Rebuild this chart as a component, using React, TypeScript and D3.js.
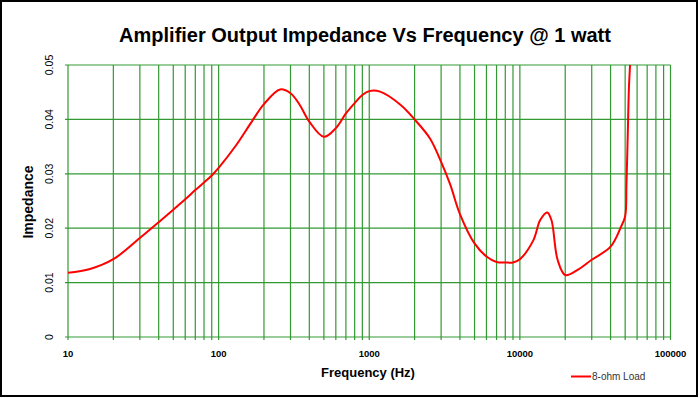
import * as d3 from 'd3';
import { useEffect } from 'react';

// frequency (Hz) and output impedance
const freqs = [10, 14, 20, 30, 40, 50, 60, 70, 80, 90, 100, 131, 166, 200, 256, 300, 345, 400, 500, 600, 700, 800, 900, 1000, 1180, 1610, 2000, 2530, 3000, 3450, 4000, 5000, 6000, 7000, 8000, 9000, 10000, 12300, 13650, 15200, 16200, 17800, 20000, 24000, 30000, 40000, 47000, 50000, 51000, 52000, 53000, 54000, 55000];
const impedance = [0.0118, 0.0125, 0.0143, 0.0182, 0.0211, 0.0234, 0.0253, 0.0270, 0.0284, 0.0297, 0.0311, 0.0353, 0.0396, 0.0428, 0.0455, 0.0448, 0.0427, 0.0396, 0.0368, 0.0384, 0.0411, 0.0430, 0.0445, 0.0452, 0.0451, 0.0427, 0.0400, 0.0365, 0.0322, 0.0280, 0.0226, 0.0172, 0.0148, 0.0138, 0.0137, 0.0137, 0.0143, 0.0178, 0.0215, 0.0229, 0.0215, 0.0142, 0.0114, 0.0123, 0.0142, 0.0166, 0.0203, 0.0222, 0.028, 0.037, 0.046, 0.0505, 0.056];
const xTickLabels = ['10', '100', '1000', '10000', '100000'];
const yTickLabels = ['0', '0.01', '0.02', '0.03', '0.04', '0.05'];
const seriesName = '8-ohm Load';

const App = () => {

    useEffect(() => {
        drawChart()
    }, []);

    const drawChart = () => {
        const width: any = 700;
        const height: any = 398;
        const left = 68, right = 670.5, top = 65, bottom = 337;
        const grid = '#339933';

        d3.select('#chart').selectAll('*').remove();

        const svg: any = d3.select('#chart')
            .append('svg')
            .attr('width', width)
            .attr('height', height)
            .style('position', 'absolute')
            .style('left', 0)
            .style('top', 0)
            .style('font-family', 'Arial, "Liberation Sans", sans-serif');

        svg.append('rect').attr('width', width).attr('height', height).attr('fill', '#fff');
        // frame
        svg.append('rect')
            .attr('x', 1).attr('y', 1).attr('width', 696).attr('height', 395)
            .attr('fill', 'none').attr('stroke', '#000').attr('stroke-width', 2);

        const x = d3.scaleLog().domain([10, 100000]).range([left, right]);
        const y = d3.scaleLinear().domain([0, 0.05]).range([bottom, top]);

        // title
        svg.append('text')
            .attr('x', 365).attr('y', 42)
            .attr('text-anchor', 'middle')
            .style('font-size', '20px')
            .style('font-weight', 700)
            .style('fill', '#000')
            .text('Amplifier Output Impedance Vs Frequency @ 1 watt');

        // vertical grid (every 1..9 per decade)
        const minor: number[] = [];
        for (let e = 1; e <= 4; e++) {
            for (let m = 1; m <= 9; m++) minor.push(m * Math.pow(10, e));
        }
        minor.push(100000);
        svg.append('g').selectAll('line')
            .data(minor)
            .enter()
            .append('line')
            .attr('x1', (d: any) => x(d)).attr('x2', (d: any) => x(d))
            .attr('y1', top).attr('y2', bottom + 3)
            .attr('stroke', grid).attr('stroke-width', 1.2);

        // horizontal grid
        const yVals = yTickLabels.map((d) => +d);
        svg.append('g').selectAll('line')
            .data(yVals)
            .enter()
            .append('line')
            .attr('x1', left - 3).attr('x2', right)
            .attr('y1', (d: any) => y(d)).attr('y2', (d: any) => y(d))
            .attr('stroke', grid).attr('stroke-width', 1.2);

        // y tick labels (rotated)
        svg.append('g').selectAll('text')
            .data(yTickLabels)
            .enter()
            .append('text')
            .attr('transform', (d: any) => `translate(53,${y(+d)}) rotate(-90)`)
            .attr('text-anchor', 'middle')
            .style('font-size', '10.5px')
            .style('fill', '#000')
            .text((d: any) => d);

        // x tick labels
        svg.append('g').selectAll('text')
            .data(xTickLabels)
            .enter()
            .append('text')
            .attr('x', (d: any) => x(+d)).attr('y', 357)
            .attr('text-anchor', 'middle')
            .style('font-size', '9.5px')
            .style('font-weight', 700)
            .style('fill', '#000')
            .text((d: any) => d);

        // axis titles
        svg.append('text')
            .attr('x', 368).attr('y', 377)
            .attr('text-anchor', 'middle')
            .style('font-size', '13px').style('font-weight', 700)
            .text('Frequency (Hz)');
        svg.append('text')
            .attr('transform', 'translate(33,202) rotate(-90)')
            .attr('text-anchor', 'middle')
            .style('font-size', '14px').style('font-weight', 700)
            .text('Impedance');

        // curve
        svg.append('clipPath').attr('id', 'plotclip')
            .append('rect').attr('x', left).attr('y', top)
            .attr('width', right - left).attr('height', bottom - top);

        const pts: any = freqs.map((f, i) => [f, impedance[i]]);
        const line: any = d3.line()
            .x((d: any) => x(d[0]))
            .y((d: any) => y(d[1]))
            .curve(d3.curveCatmullRom.alpha(0.5));
        svg.append('path')
            .attr('d', line(pts))
            .attr('clip-path', 'url(#plotclip)')
            .attr('fill', 'none')
            .attr('stroke', '#ff0000')
            .attr('stroke-width', 2);

        // legend
        svg.append('line')
            .attr('x1', 571).attr('x2', 591).attr('y1', 376.5).attr('y2', 376.5)
            .attr('stroke', '#ff0000').attr('stroke-width', 2);
        svg.append('text')
            .attr('x', 592).attr('y', 380)
            .style('font-size', '10px')
            .style('fill', '#333')
            .text(seriesName);
    }

    return (
        <>
            <div id="chart"></div>
        </>
    )
}

export default App;
